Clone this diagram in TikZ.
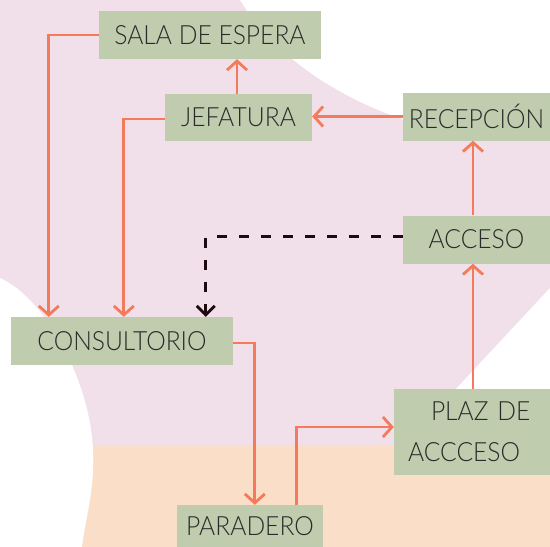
\documentclass[tikz,border=0pt]{standalone}
\usepackage{fontspec}
\setmainfont{Lato Light}[FakeStretch=0.93]
\usetikzlibrary{arrows.meta}
\definecolor{bgpink}{HTML}{F1E0EA}
\definecolor{bgpeach}{HTML}{FADEC7}
\definecolor{boxgreen}{HTML}{BFCCAE}
\definecolor{arrowc}{HTML}{F47A5C}
\definecolor{textc}{HTML}{2A2A2A}
\definecolor{dashc}{HTML}{1F0A0F}
\tikzset{
  stepbox/.style={rectangle, fill=boxgreen, draw=none, inner sep=0pt, text=textc,
    font=\fontsize{26.5}{30}\selectfont},
  arr/.style={draw=arrowc, line width=2.8pt, -{Straight Barb[length=9pt,width=20pt]}},
  darr/.style={draw=dashc, line width=2.8pt, dash pattern=on 10pt off 12pt,
    -{Straight Barb[length=9pt,width=18pt]}}
}
\begin{document}
\begin{tikzpicture}[x=1pt,y=-1pt]
\useasboundingbox (0,0) rectangle (550,547);
% background
\fill[bgpink] (0,0) rectangle (550,547);
\fill[white] (240,0) .. controls (270,50) and (330,95) .. (405,120) -- (550,135) -- (550,0) -- cycle;
\fill[white] (550,288) -- (455,390) -- (550,390) -- cycle;
\fill[bgpeach] (90,445) -- (550,445) -- (550,547) -- (82,547) -- cycle;
\fill[white] (0,278) .. controls (45,298) and (90,380) .. (93,450) .. controls (95,490) and (85,520) .. (82,547) -- (0,547) -- cycle;
% nodes
\node[stepbox, minimum width=222pt, minimum height=48pt] (sala) at (210,35) {SALA DE ESPERA};
\node[stepbox, minimum width=147pt, minimum height=47pt] (jef) at (238.5,117.5) {JEFATURA};
\node[stepbox, minimum width=147pt, minimum height=48pt] (rec) at (476.5,116.5) {RECEPCIÓN};
\node[stepbox, minimum width=147pt, minimum height=48pt] (acc) at (476.5,239.5) {ACCESO};
\node[stepbox, minimum width=222pt, minimum height=48pt] (cons) at (122,341) {CONSULTORIO};
\node[stepbox, minimum width=156pt, minimum height=86pt, align=left, text width=128pt] (plaz) at (472,432)
  {\raisebox{-2pt}{\hspace*{23pt}PLAZ DE}\\[11pt]\raisebox{-2pt}{ACCCESO}};
\node[stepbox, minimum width=146pt, minimum height=42pt] (par) at (250,526) {\raisebox{-2pt}{PARADERO}};
% connectors
\draw[arr] (sala.west) -| ([xshift=38pt]cons.north west);
\draw[arr] ([yshift=-1.5pt]jef.west) -| ([xshift=113pt]cons.north west);
\draw[arr] ([xshift=-1.5pt]jef.north) -- ([xshift=-1.5pt]jef.north |- sala.south);
\draw[arr] (rec.west) -- (rec.west -| jef.east);
\draw[arr] ([xshift=-3.5pt]acc.north) -- ([xshift=-3.5pt]rec.south);
\draw[arr] ([xshift=1pt]plaz.north) -- ([xshift=-3.5pt]acc.south);
\draw[darr] ([yshift=3pt]acc.west) -| ([xshift=195pt]cons.north west);
\draw[arr] ([yshift=-2pt]cons.east) -| ([xshift=78pt]par.north west);
\draw[arr] ([xshift=120pt]par.north west) |- ([yshift=5pt]plaz.west);
\end{tikzpicture}
\end{document}
